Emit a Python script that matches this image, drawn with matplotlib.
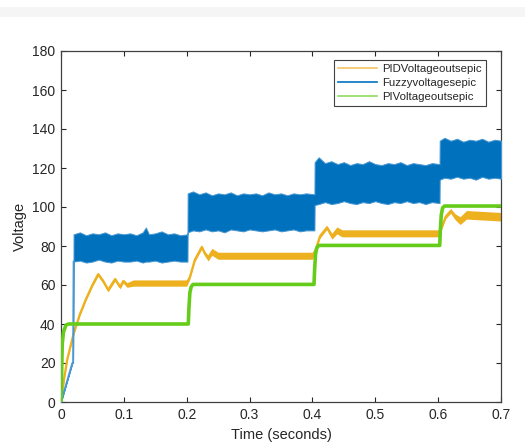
import numpy as np
import matplotlib
matplotlib.use('Agg')
import matplotlib.pyplot as plt
from matplotlib.lines import Line2D
from matplotlib.patches import Rectangle

plt.rcParams['font.family'] = ['Liberation Sans', 'DejaVu Sans']

# Fuzzy controller output: noisy band, given as lower / upper envelope
fuzzy_t = [0, 0.018, 0.0192, 0.02, 0.03, 0.04, 0.05, 0.06, 0.07, 0.08, 0.09, 0.10, 0.11,
           0.12, 0.13, 0.135, 0.14, 0.15, 0.16, 0.17, 0.18, 0.19, 0.2012,
           0.2015, 0.21, 0.22, 0.23, 0.24, 0.25, 0.26, 0.27, 0.28, 0.29, 0.30, 0.31, 0.32,
           0.33, 0.34, 0.35, 0.36, 0.37, 0.38, 0.39, 0.4032,
           0.4035, 0.41, 0.42, 0.43, 0.44, 0.45, 0.46, 0.47, 0.48, 0.49, 0.50, 0.51, 0.52,
           0.53, 0.54, 0.55, 0.56, 0.57, 0.58, 0.59, 0.6022,
           0.6025, 0.61, 0.62, 0.63, 0.64, 0.65, 0.66, 0.67, 0.68, 0.69, 0.70]
fuzzy_hi = [0, 20, 20, 86, 87, 85.5, 86.5, 86, 87, 85.5, 86.5, 86, 86.5,
            85.5, 87, 89.5, 86, 86.5, 87.5, 86, 86.5, 85.5, 86,
            107, 108, 106.5, 107.5, 106, 107, 106.5, 107.5, 106, 107, 106.5, 107, 106,
            107.5, 106.5, 107, 106, 107, 106.5, 107, 106.5,
            123, 125.5, 122.5, 123.5, 122, 123, 121.5, 122.5, 122, 123.5, 122, 121.5, 122.5,
            122, 123, 121.5, 122.5, 122, 121.5, 122.5, 122,
            134, 135.5, 134, 135, 133.5, 134.5, 134, 135, 133.5, 134.5, 134]
fuzzy_lo = [0, 20, 20, 72, 72.5, 71.5, 72, 73, 72, 71.5, 72.5, 72, 72,
            72.5, 71.5, 72, 72, 72.5, 71.5, 72, 72.5, 72, 72,
            87, 88, 87.5, 88.5, 87.5, 88, 87, 88.5, 88, 87.5, 88.5, 88, 87.5,
            88, 88.5, 87.5, 88, 88.5, 87.5, 88, 88,
            101, 101.5, 102.5, 101.5, 102, 103, 102, 101.5, 102.5, 102, 103, 102, 101.5,
            102.5, 102, 103, 102, 102.5, 101.5, 102.5, 102,
            114, 115, 114.5, 115.5, 114.5, 115, 114, 115.5, 114.5, 115, 114.5]

# PID controller output: centre line and ripple half-width
pid_t = [0, 0.005, 0.01, 0.02, 0.03, 0.04, 0.05, 0.059, 0.067, 0.075, 0.086, 0.094, 0.099,
         0.105, 0.115, 0.2, 0.205, 0.213, 0.224, 0.229, 0.234, 0.24, 0.25, 0.4, 0.405,
         0.412, 0.423, 0.431, 0.439, 0.447, 0.6, 0.605, 0.612, 0.62, 0.627, 0.635, 0.645, 0.7]
pid_mid = [0, 12, 22, 35, 45, 53, 60, 65.5, 62, 57.5, 63, 59, 62,
           60, 61, 61, 64, 73, 79.5, 76, 73.8, 77, 75, 75, 78,
           85, 89.5, 85, 88, 86.5, 86.5, 89, 95, 98, 95, 93, 96, 95]
pid_ripple = [0, 0.8, 0.8, 0.8, 0.8, 0.8, 0.8, 1, 1, 1, 1, 1, 1,
              1.2, 1.6, 1.6, 1, 1, 1, 1.2, 1.5, 1.8, 1.8, 1.8, 1,
              1, 1, 1.5, 1.8, 1.8, 1.8, 1, 1, 1.2, 1.5, 2, 2.2, 2.2]

# PI controller output
pi_t = [0, 0.002, 0.004, 0.008, 0.012, 0.2025, 0.2035, 0.205, 0.207, 0.21,
        0.4025, 0.4035, 0.405, 0.407, 0.41, 0.6025, 0.6035, 0.605, 0.607, 0.61, 0.7]
pi_v = [0, 30, 36, 39.5, 40, 40, 48, 56, 59, 60.3,
        60.3, 68, 76, 79, 80.3, 80.3, 88, 96, 99.5, 100.5, 100.5]

c_pid = '#EDB120'
c_fuzzy = '#0072BD'
c_pi = '#66CC1A'
c_ax = '#262626'

fig = plt.figure(figsize=(5.25, 4.47), dpi=100)
fig.patches.append(Rectangle((0, 1 - 17 / 447), 1, 10 / 447, transform=fig.transFigure,
                             facecolor='#f5f5f5', edgecolor='none', zorder=0))
ax = fig.add_axes([61 / 525, 1 - 402 / 447, 440 / 525, 351 / 447])

pt = np.array(pid_t)
pm = np.array(pid_mid)
pr = np.array(pid_ripple)
ax.fill_between(pt, pm - pr, pm + pr, color=c_pid, lw=0, zorder=2)
ax.plot(pt, pm, color=c_pid, lw=1.6, zorder=2)

ax.fill_between(fuzzy_t, fuzzy_lo, fuzzy_hi, color=c_fuzzy, lw=0.7, edgecolor='#4a98d2', zorder=3)
ax.plot(fuzzy_t[:4], fuzzy_lo[:4], color='#4a98d2', lw=1.3, zorder=3)

ax.plot(pi_t, pi_v, color=c_pi, lw=2.6, zorder=4)

ax.set_xlim(0, 0.7)
ax.set_ylim(0, 180)
ax.set_xticks(np.arange(0, 0.71, 0.1))
ax.set_xticklabels(['0', '0.1', '0.2', '0.3', '0.4', '0.5', '0.6', '0.7'])
ax.set_yticks(np.arange(0, 181, 20))
ax.tick_params(direction='in', length=3.5, width=0.8, top=True, right=True,
               colors=c_ax, labelsize=10, labelcolor=c_ax, pad=4)
for s in ax.spines.values():
    s.set_color('#404040')
    s.set_linewidth(0.9)
ax.set_xlabel('Time (seconds)', fontsize=10.5, color=c_ax, labelpad=5)
ax.set_ylabel('Voltage', fontsize=10.5, color=c_ax, labelpad=4)

handles = [Line2D([], [], color='#f2c564', lw=1.2),
           Line2D([], [], color=c_fuzzy, lw=1.2),
           Line2D([], [], color='#8fdc5c', lw=1.2)]
leg = ax.legend(handles, ['PIDVoltageoutsepic', 'Fuzzyvoltagesepic', 'PIVoltageoutsepic'],
                loc='upper right', bbox_to_anchor=(0.966, 0.974), borderaxespad=0,
                fontsize=8.2, handlelength=3.4, handletextpad=0.5, labelspacing=0.35,
                borderpad=0.35, fancybox=False, framealpha=1)
leg.get_frame().set_edgecolor('#404040')
leg.get_frame().set_linewidth(0.8)
for t in leg.get_texts():
    t.set_color(c_ax)

fig.savefig('out.png', dpi=100)
